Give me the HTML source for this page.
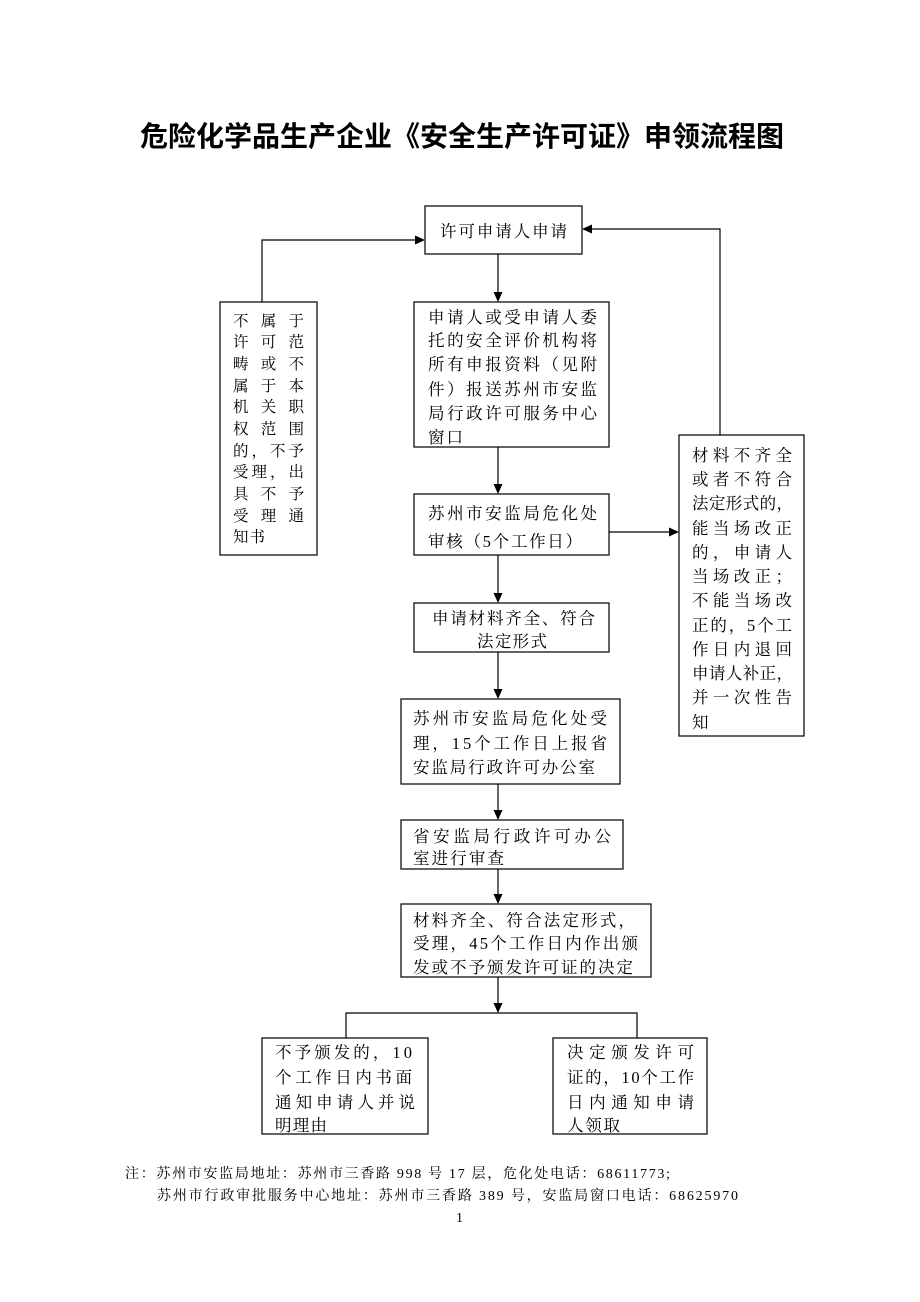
<!DOCTYPE html>
<html><head><meta charset="utf-8"><style>
html,body{margin:0;padding:0;background:#fff;}
svg{display:block;}
.t{font-family:"Liberation Serif","Noto Serif CJK SC",serif;font-size:16.5px;fill:#000;}
.s{font-size:15.5px;}
.f{font-family:"Liberation Serif","Noto Serif CJK SC",serif;font-size:14px;fill:#000;}
.h{font-family:"Liberation Sans","Noto Sans CJK SC",sans-serif;font-size:28px;font-weight:bold;fill:#000;}
</style></head><body>
<svg width="920" height="1302" viewBox="0 0 920 1302" xmlns="http://www.w3.org/2000/svg">
<rect width="920" height="1302" fill="#fff"/>
<text class="h" x="140" y="146" textLength="644" lengthAdjust="spacing">危险化学品生产企业《安全生产许可证》申领流程图</text>

<g fill="none" stroke="#111" stroke-width="1.3">
<rect x="425" y="206" width="157" height="48"/>
<rect x="220" y="302" width="97" height="253"/>
<rect x="414" y="302" width="195" height="145"/>
<rect x="414" y="494" width="195" height="61"/>
<rect x="679" y="435" width="125" height="301"/>
<rect x="414" y="603" width="195" height="49"/>
<rect x="401" y="699" width="219" height="85"/>
<rect x="401" y="820" width="222" height="49"/>
<rect x="401" y="904" width="250" height="73"/>
<rect x="262" y="1038" width="166" height="96"/>
<rect x="553" y="1038" width="154" height="96"/>
</g>

<g fill="none" stroke="#000" stroke-width="1.2">
<polyline points="262,302 262,240 415,240"/>
<polyline points="720,435 720,229 592,229"/>
<line x1="498" y1="254" x2="498" y2="292"/>
<line x1="498" y1="447" x2="498" y2="484"/>
<line x1="609" y1="532" x2="669" y2="532"/>
<line x1="498" y1="555" x2="498" y2="593"/>
<line x1="498" y1="652" x2="498" y2="689"/>
<line x1="498" y1="784" x2="498" y2="810"/>
<line x1="498" y1="869" x2="498" y2="894"/>
<line x1="498" y1="977" x2="498" y2="1003"/>
<polyline points="346,1038 346,1013 637,1013 637,1038"/>
</g>
<g fill="#000">
<polygon points="415,235.5 425,240 415,244.5"/>
<polygon points="592,224.5 582,229 592,233.5"/>
<polygon points="493.5,292 502.5,292 498,302"/>
<polygon points="493.5,484 502.5,484 498,494"/>
<polygon points="669,527.5 679,532 669,536.5"/>
<polygon points="493.5,593 502.5,593 498,603"/>
<polygon points="493.5,689 502.5,689 498,699"/>
<polygon points="493.5,810 502.5,810 498,820"/>
<polygon points="493.5,894 502.5,894 498,904"/>
<polygon points="493.5,1003 502.5,1003 498,1013"/>
</g>

<!-- Box 1 -->
<text class="t" x="440" y="237" textLength="127" lengthAdjust="spacing">许可申请人申请</text>

<!-- Box 2 -->
<text class="t" x="428" y="323" textLength="169" lengthAdjust="spacing">申请人或受申请人委</text>
<text class="t" x="428" y="346" textLength="169" lengthAdjust="spacing">托的安全评价机构将</text>
<text class="t" x="428" y="370" textLength="169" lengthAdjust="spacing">所有申报资料（见附</text>
<text class="t" x="428" y="395" textLength="169" lengthAdjust="spacing">件）报送苏州市安监</text>
<text class="t" x="428" y="419" textLength="169" lengthAdjust="spacing">局行政许可服务中心</text>
<text class="t" x="428" y="443" textLength="35" lengthAdjust="spacing">窗口</text>

<!-- Box 3 -->
<text class="t" x="428" y="519" textLength="169" lengthAdjust="spacing">苏州市安监局危化处</text>
<text class="t" x="428" y="547" textLength="154" lengthAdjust="spacing">审核（5个工作日）</text>

<!-- Box 4 -->
<text class="t" x="432" y="624" textLength="163" lengthAdjust="spacing">申请材料齐全、符合</text>
<text class="t" x="477" y="647" textLength="70" lengthAdjust="spacing">法定形式</text>

<!-- Box 5 -->
<text class="t" x="413" y="724" textLength="194" lengthAdjust="spacing">苏州市安监局危化处受</text>
<text class="t" x="413" y="749" textLength="194" lengthAdjust="spacing">理，15个工作日上报省</text>
<text class="t" x="413" y="773" textLength="182" lengthAdjust="spacing">安监局行政许可办公室</text>

<!-- Box 6 -->
<text class="t" x="413" y="842" textLength="198" lengthAdjust="spacing">省安监局行政许可办公</text>
<text class="t" x="413" y="864" textLength="91" lengthAdjust="spacing">室进行审查</text>

<!-- Box 7 -->
<text class="t" x="413" y="926" textLength="222" lengthAdjust="spacing">材料齐全、符合法定形式，</text>
<text class="t" x="413" y="949" textLength="225" lengthAdjust="spacing">受理，45个工作日内作出颁</text>
<text class="t" x="413" y="973" textLength="220" lengthAdjust="spacing">发或不予颁发许可证的决定</text>

<!-- Bottom left -->
<text class="t" x="275" y="1058" textLength="137" lengthAdjust="spacing">不予颁发的，10</text>
<text class="t" x="275" y="1083" textLength="137" lengthAdjust="spacing">个工作日内书面</text>
<text class="t" x="275" y="1108" textLength="140" lengthAdjust="spacing">通知申请人并说</text>
<text class="t" x="275" y="1131" textLength="52" lengthAdjust="spacing">明理由</text>

<!-- Bottom right -->
<text class="t" x="567" y="1058" textLength="127" lengthAdjust="spacing">决定颁发许可</text>
<text class="t" x="567" y="1083" textLength="127" lengthAdjust="spacing">证的，10个工作</text>
<text class="t" x="567" y="1108" textLength="127" lengthAdjust="spacing">日内通知申请</text>
<text class="t" x="567" y="1131" textLength="53" lengthAdjust="spacing">人领取</text>

<!-- Left box -->
<text class="t s" x="233" y="326" textLength="71" lengthAdjust="spacing">不属于</text>
<text class="t s" x="233" y="347" textLength="71" lengthAdjust="spacing">许可范</text>
<text class="t s" x="233" y="369" textLength="71" lengthAdjust="spacing">畴或不</text>
<text class="t s" x="233" y="391" textLength="71" lengthAdjust="spacing">属于本</text>
<text class="t s" x="233" y="412" textLength="71" lengthAdjust="spacing">机关职</text>
<text class="t s" x="233" y="434" textLength="71" lengthAdjust="spacing">权范围</text>
<text class="t s" x="233" y="456" textLength="71" lengthAdjust="spacing">的，不予</text>
<text class="t s" x="233" y="477" textLength="71" lengthAdjust="spacing">受理，出</text>
<text class="t s" x="233" y="499" textLength="71" lengthAdjust="spacing">具不予</text>
<text class="t s" x="233" y="521" textLength="71" lengthAdjust="spacing">受理通</text>
<text class="t s" x="233" y="542" textLength="32" lengthAdjust="spacing">知书</text>

<!-- Right box -->
<text class="t" x="692" y="461" textLength="100" lengthAdjust="spacing">材料不齐全</text>
<text class="t" x="692" y="485" textLength="100" lengthAdjust="spacing">或者不符合</text>
<text class="t" x="692" y="509" textLength="101" lengthAdjust="spacing">法定形式的，</text>
<text class="t" x="692" y="534" textLength="100" lengthAdjust="spacing">能当场改正</text>
<text class="t" x="692" y="558" textLength="100" lengthAdjust="spacing">的，申请人</text>
<text class="t" x="692" y="582" textLength="100" lengthAdjust="spacing">当场改正；</text>
<text class="t" x="692" y="606" textLength="100" lengthAdjust="spacing">不能当场改</text>
<text class="t" x="692" y="631" textLength="100" lengthAdjust="spacing">正的，5个工</text>
<text class="t" x="692" y="655" textLength="100" lengthAdjust="spacing">作日内退回</text>
<text class="t" x="692" y="679" textLength="101" lengthAdjust="spacing">申请人补正，</text>
<text class="t" x="692" y="703" textLength="100" lengthAdjust="spacing">并一次性告</text>
<text class="t" x="692" y="728">知</text>

<!-- Footer -->
<text class="f" x="125" y="1178" textLength="545" lengthAdjust="spacing">注：苏州市安监局地址：苏州市三香路 998 号 17 层，危化处电话：68611773;</text>
<text class="f" x="157" y="1200" textLength="581" lengthAdjust="spacing">苏州市行政审批服务中心地址：苏州市三香路 389 号，安监局窗口电话：68625970</text>
<text class="f" x="456" y="1222">1</text>
</svg>
</body></html>
